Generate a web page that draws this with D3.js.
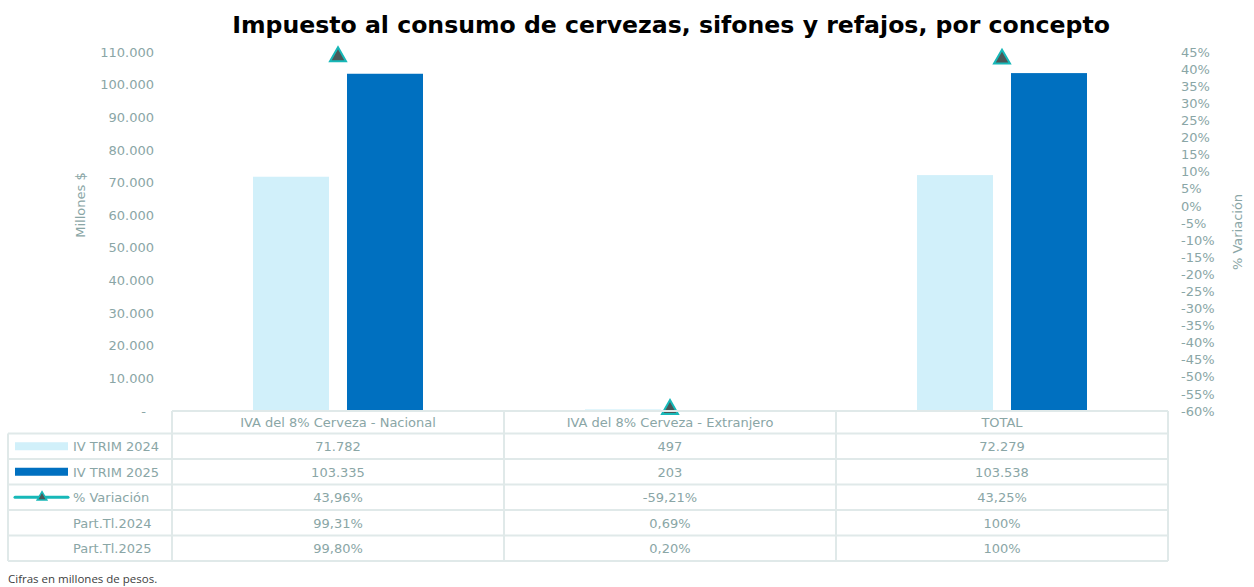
<!DOCTYPE html>
<html><head><meta charset="utf-8">
<script src="https://cdn.jsdelivr.net/npm/d3@7"></script>
<style>body{margin:0;background:#fff}svg{display:block}</style>
</head><body>
<svg id="c" width="1254" height="587"></svg>
<script>
const categories = ["IVA del 8% Cerveza - Nacional", "IVA del 8% Cerveza - Extranjero", "TOTAL"];
const trim2024 = [71782, 497, 72279];
const trim2025 = [103335, 203, 103538];
const variacion = [43.96, -59.21, 43.25];
const part2024 = ["99,31%", "0,69%", "100%"];
const part2025 = ["99,80%", "0,20%", "100%"];
const leftTicks = [0,10000,20000,30000,40000,50000,60000,70000,80000,90000,100000,110000];
const rightTicks = d3.range(-60, 50, 5);

const svg = d3.select("#c");
const font = "Verdana, 'DejaVu Sans', sans-serif";
const txt = "#8aa6a6";
const light = "#d1f0fa", dark = "#0070c0", teal = "#17b8b8", triFill = "#4a5858";
const grid = "#e0e9e9";

const L = 172, R = 1168, T = 52, B = 411;
const x = d3.scaleBand().domain(categories).range([L, R]);
const yL = d3.scaleLinear().domain([0, 110000]).range([B, T]);
const yR = d3.scaleLinear().domain([-60, 45]).range([B, T]);
const fmt = d3.formatLocale({decimal: ",", thousands: ".", grouping: [3], currency: ["$", ""], minus: "-"});
const fNum = fmt.format(",.0f");
const fPct = fmt.format(",.2f");

// title
svg.append("text").attr("x", 671).attr("y", 33).attr("text-anchor", "middle")
  .style("font-family", font).style("font-weight", "bold").style("font-size", "23.6px")
  .attr("fill", "#000").text("Impuesto al consumo de cervezas, sifones y refajos, por concepto");

// left axis
const gL = svg.append("g").attr("transform", `translate(${L - 18},0)`)
  .call(d3.axisLeft(yL).tickValues(leftTicks).tickSize(0).tickPadding(0)
    .tickFormat(d => d === 0 ? "-" : fNum(d)));
gL.select(".domain").remove();
gL.selectAll("text").style("font-family", font).style("font-size", "13px").attr("fill", txt)
  .attr("dx", d => d === 0 ? -8 : 0);

// right axis
const gR = svg.append("g").attr("transform", `translate(${R + 13},0)`)
  .call(d3.axisRight(yR).tickValues(rightTicks).tickSize(0).tickPadding(0).tickFormat(d => d + "%"));
gR.select(".domain").remove();
gR.selectAll("text").style("font-family", font).style("font-size", "13px").attr("fill", txt);

// axis titles
svg.append("text").attr("transform", "translate(85,205) rotate(-90)").attr("text-anchor", "middle")
  .style("font-family", font).style("font-size", "13px").attr("fill", txt).text("Millones $");
svg.append("text").attr("transform", "translate(1242,232) rotate(-90)").attr("text-anchor", "middle")
  .style("font-family", font).style("font-size", "13px").attr("fill", txt).text("% Variación");

// bars
const bw = 76, off = 47;
svg.append("g").selectAll("rect").data(categories).join("rect")
  .attr("x", d => x(d) + x.bandwidth() / 2 - off - bw / 2)
  .attr("y", (d, i) => yL(trim2024[i])).attr("width", bw)
  .attr("height", (d, i) => B - yL(trim2024[i])).attr("fill", light);
svg.append("g").selectAll("rect").data(categories).join("rect")
  .attr("x", d => x(d) + x.bandwidth() / 2 + off - bw / 2)
  .attr("y", (d, i) => yL(trim2025[i])).attr("width", bw)
  .attr("height", (d, i) => B - yL(trim2025[i])).attr("fill", dark);

// triangles
const tri = d3.symbol().type(d3.symbolTriangle).size(110);
svg.append("g").selectAll("path").data(categories).join("path")
  .attr("d", tri)
  .attr("transform", (d, i) => `translate(${x(d) + x.bandwidth() / 2},${yR(variacion[i]) + 1})`)
  .attr("fill", triFill).attr("stroke", teal).attr("stroke-width", 2);

// data table
const headH = 22.5, rowH = 25.5;
const rows = [
  {label: "IV TRIM 2024", vals: trim2024.map(fNum), key: "light"},
  {label: "IV TRIM 2025", vals: trim2025.map(fNum), key: "dark"},
  {label: "% Variación", vals: variacion.map(v => fPct(v) + "%"), key: "line"},
  {label: "Part.Tl.2024", vals: part2024, key: null},
  {label: "Part.Tl.2025", vals: part2025, key: null}
];
const tb = svg.append("g");
const tTop = B, lx = 8;
const rowTop = r => tTop + headH + r * rowH;
const tBottom = rowTop(rows.length);
tb.append("line").attr("x1", L).attr("x2", R).attr("y1", tTop).attr("y2", tTop).attr("stroke", grid).attr("stroke-width", 2);
for (let r = 0; r <= rows.length; r++) {
  const yy = rowTop(r);
  tb.append("line").attr("x1", lx).attr("x2", R).attr("y1", yy).attr("y2", yy).attr("stroke", grid).attr("stroke-width", 2);
}
tb.append("line").attr("x1", lx).attr("x2", lx).attr("y1", rowTop(0)).attr("y2", tBottom).attr("stroke", grid).attr("stroke-width", 2);
categories.forEach(c => {
  tb.append("line").attr("x1", x(c)).attr("x2", x(c)).attr("y1", tTop).attr("y2", tBottom).attr("stroke", grid).attr("stroke-width", 2);
});
tb.append("line").attr("x1", R).attr("x2", R).attr("y1", tTop).attr("y2", tBottom).attr("stroke", grid).attr("stroke-width", 2);

categories.forEach(c => {
  tb.append("text").attr("x", x(c) + x.bandwidth() / 2).attr("y", tTop + headH / 2 + 5)
    .attr("text-anchor", "middle").style("font-family", font).style("font-size", "13px").attr("fill", txt).text(c);
});
rows.forEach((row, r) => {
  const cy = rowTop(r) + rowH / 2;
  if (row.key === "light" || row.key === "dark") {
    tb.append("rect").attr("x", 15).attr("y", cy - 4).attr("width", 53).attr("height", 8)
      .attr("fill", row.key === "light" ? light : dark);
  } else if (row.key === "line") {
    tb.append("line").attr("x1", 15).attr("x2", 68).attr("y1", cy).attr("y2", cy)
      .attr("stroke", teal).attr("stroke-width", 3).attr("stroke-linecap", "round");
    tb.append("path").attr("d", d3.symbol().type(d3.symbolTriangle).size(40))
      .attr("transform", `translate(42,${cy})`).attr("fill", triFill).attr("stroke", teal).attr("stroke-width", 1.5);
  }
  tb.append("text").attr("x", 73).attr("y", cy + 5).style("font-family", font).style("font-size", "13px")
    .attr("fill", txt).text(row.label);
  row.vals.forEach((v, i) => {
    tb.append("text").attr("x", x(categories[i]) + x.bandwidth() / 2).attr("y", cy + 5)
      .attr("text-anchor", "middle").style("font-family", font).style("font-size", "13px").attr("fill", txt).text(v);
  });
});

// footnote
svg.append("text").attr("x", 8).attr("y", 583).style("font-family", "'Open Sans', sans-serif")
  .style("font-size", "11.5px").attr("fill", "#404040").text("Cifras en millones de pesos.");
</script>
</body></html>
